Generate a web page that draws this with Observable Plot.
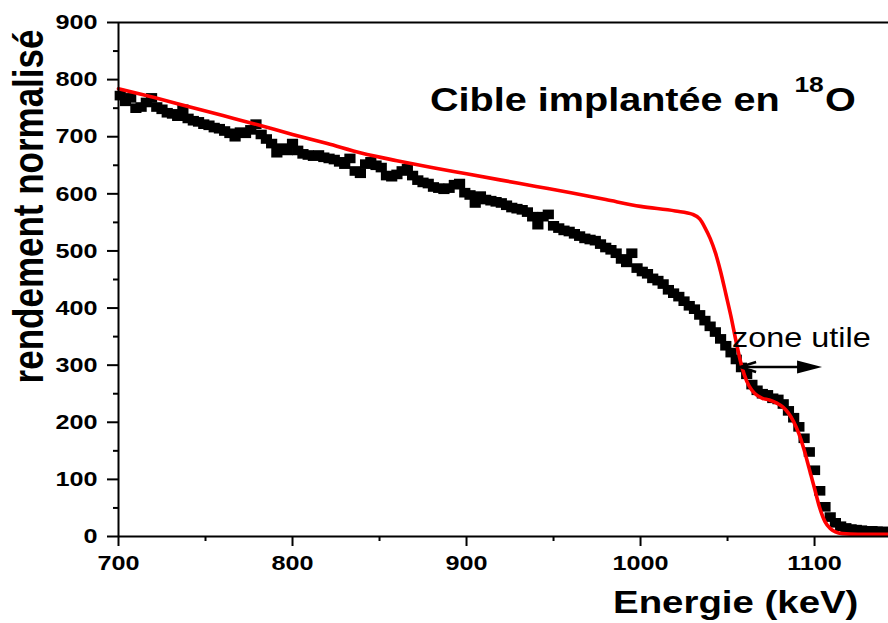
<!DOCTYPE html>
<html><head><meta charset="utf-8">
<script src="https://cdn.jsdelivr.net/npm/d3@7"></script>
<script src="https://cdn.jsdelivr.net/npm/@observablehq/plot@0.6"></script>
<style>
html,body{margin:0;padding:0;background:#fff;}
#chart svg{display:block;}
g[aria-label$="axis tick"]{stroke-width:2px;}
</style>
</head><body><div id="chart"></div>
<script>
// ---- data ----
const energy = [
701,704,707,710,713,716,719,722,725,728,
731,734,737,740,743,746,749,752,755,758,
761,764,767,770,773,776,779,782,785,788,
791,794,797,800,803,806,809,812,815,818,
821,824,827,830,833,836,839,842,845,848,
851,854,857,860,863,866,869,872,875,878,
881,884,887,890,893,896,899,902,905,908,
911,914,917,920,923,926,929,932,935,938,
941,944,947,950,953,956,959,962,965,968,
971,974,977,980,983,986,989,992,995,998,
1001,1004,1007,1010,1013,1016,1019,1022,1025,1028,
1031,1034,1037,1040,1043,1046,1049,1052,1055,1058,
1061,1064,1067,1070,1073,1076,1079,1082,1085,1088,
1091,1094,1097,1100,1103,1106,1109,1112,1115,1118,
1121,1124,1127,1130,1133,1136,1139,1142];
const measured = [
772,762,768,750,752,760,768,752,748,742,
740,736,748,732,728,726,722,720,716,714,
710,706,700,708,706,712,722,704,696,688,
672,680,676,688,676,670,668,666,668,664,
662,660,656,652,662,640,636,652,656,650,
646,632,630,634,640,644,632,624,620,618,
612,610,608,610,616,618,602,598,584,596,
590,588,586,584,580,576,574,572,568,560,
546,560,564,544,540,536,534,530,526,522,
520,518,512,506,502,496,486,480,496,470,
464,460,452,448,442,432,426,420,412,404,
398,388,378,368,358,346,334,322,310,296,
284,266,256,250,248,242,240,232,220,208,
192,172,148,116,80,52,34,24,18,15,
13,12,11,10,10,9,9,8];
const fitEnergy = [700,720,740,760,780,800,820,840,860,880,900,920,940,960,980,1000,1020,1030,1034,1037,1040,1043,1046,1049,1052,1055,1058,1061,1064,1067,1070,1074,1078,1082,1085,1088,1091,1094,1097,1100,1103,1106,1109,1112,1116,1125,1142.5];
const fitYield  = [784,769,753,737,721,704,688,671,658,646,635,624,613,602,590,578,570,564,556,541,522,497,464,425,385,340,300,272,256,247,242,239,234,226,216,201,180,152,118,84,50,26,14,8,5,4,4];

const xTicks = [700, 800, 900, 1000, 1100];
const xMinorTicks = [750, 850, 950, 1050];
const yTicks = [0, 100, 200, 300, 400, 500, 600, 700, 800, 900];
const yMinorTicks = [50, 150, 250, 350, 450, 550, 650, 750, 850];
const xTitle = "Energie (keV)";
const yTitle = "rendement normalisé";
const noteMain = "Cible implantée en ";
const noteSup = "18";
const noteTail = "O";
const zoneText = "zone utile";

const points = energy.map((e, i) => ({e, v: measured[i]}));
const fit = fitEnergy.map((e, i) => ({e, v: fitYield[i]}));

const FONT = '"Liberation Sans", Arial, Helvetica, sans-serif';
const K = 1.2; // horizontal glyph stretch seen in the reference

// slightly wide square marker (the reference is horizontally stretched)
const wideSquare = {
  draw(ctx, size) {
    const r = Math.sqrt(size / Math.PI), hw = r, hh = r * 0.86;
    ctx.moveTo(-hw, -hh); ctx.lineTo(hw, -hh); ctx.lineTo(hw, hh); ctx.lineTo(-hw, hh); ctx.closePath();
  }
};

const plot = Plot.plot({
  width: 888, height: 623,
  marginLeft: 118, marginRight: 0, marginTop: 22, marginBottom: 87,
  clip: false,
  style: {fontFamily: FONT, fontSize: "21px", fontWeight: "bold", background: "white", color: "black", overflow: "visible"},
  x: {domain: [700, 1142.5]},
  y: {domain: [0, 900]},
  marks: [
    Plot.dot(points, {x: "e", y: "v", symbol: wideSquare, r: 5.6, fill: "black", stroke: null}),
    Plot.line(fit, {x: "e", y: "v", stroke: "#ff0000", strokeWidth: 3.6, curve: "monotone-x"}),
    Plot.ruleX([700], {strokeWidth: 2}),
    Plot.ruleY([0, 900], {strokeWidth: 2}),
    Plot.axisX(xTicks, {tickSize: 10, tickPadding: 9, tickFormat: d => String(d), label: null, strokeWidth: 2, fontSize: 21, fontWeight: "bold"}),
    Plot.axisX(xMinorTicks, {tickSize: 5, tickFormat: () => "", label: null, strokeWidth: 2}),
    Plot.axisY(yTicks, {tickSize: 11, tickPadding: 10, tickFormat: d => String(d), label: null, strokeWidth: 2, fontSize: 21, fontWeight: "bold"}),
    Plot.axisY(yMinorTicks, {tickSize: 5, tickFormat: () => "", label: null, strokeWidth: 2})
  ]
});
document.getElementById("chart").appendChild(plot);

const svg = d3.select(plot);
const sx = plot.scale("x"), sy = plot.scale("y");

function stretch(el) {
  let t = el.getAttribute("transform") || "";
  const xa = el.getAttribute("x");
  if (xa && !/em$/.test(xa) && +xa) { t += ` translate(${+xa},0)`; el.removeAttribute("x"); }
  el.setAttribute("transform", `${t} scale(${K},1)`);
}
svg.selectAll('g[aria-label="x-axis tick label"] text, g[aria-label="y-axis tick label"] text').each(function() { stretch(this); });

const ann = svg.append("g").attr("font-family", FONT).attr("fill", "black").attr("text-anchor", "start");

// y title
ann.append("text")
  .attr("transform", `translate(43,${sy.apply(577)}) scale(${K},1) rotate(-90)`)
  .attr("text-anchor", "middle").attr("font-size", 35).attr("font-weight", "bold")
  .text(yTitle);

// x title
ann.append("text")
  .attr("transform", `translate(${sx.apply(984.5)},613) scale(${K},1)`)
  .attr("font-size", 32).attr("font-weight", "bold")
  .text(xTitle);

// main note with superscript
const note = ann.append("text")
  .attr("transform", `translate(${sx.apply(879.3)},${sy.apply(744)}) scale(${K},1)`)
  .attr("font-size", 33).attr("font-weight", "bold");
note.append("tspan").text(noteMain);
note.append("tspan").attr("dx", 3).attr("dy", -19).attr("font-size", 22).text(noteSup);
note.append("tspan").attr("dx", 1).attr("dy", 19).text(noteTail);

// zone utile
ann.append("text")
  .attr("transform", `translate(${sx.apply(1052.9)},${sy.apply(331)}) scale(${K},1)`)
  .attr("font-size", 27).attr("font-weight", "normal").text(zoneText);

// arrow
const ay = sy.apply(296), ax1 = sx.apply(1057.5), ax2 = sx.apply(1104.6);
ann.append("line").attr("x1", ax1 + 2).attr("x2", ax2 - 20).attr("y1", ay).attr("y2", ay)
  .attr("stroke", "black").attr("stroke-width", 2.5);
ann.append("path").attr("d", `M${ax2},${ay}L${ax2 - 25},${ay - 6.5}L${ax2 - 25},${ay + 6.5}Z`).attr("fill", "black");
ann.append("path").attr("d", `M${ax1 + 16},${ay - 5}L${ax1},${ay}L${ax1 + 16},${ay + 5}`)
  .attr("fill", "none").attr("stroke", "black").attr("stroke-width", 2.5);
</script>
</body></html>
